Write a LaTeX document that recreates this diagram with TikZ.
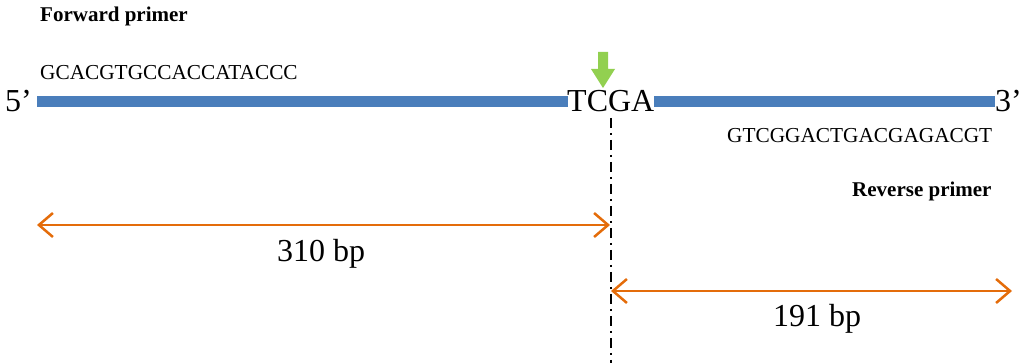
\documentclass[tikz,border=0pt]{standalone}
\usepackage{fontspec}
\setmainfont{Liberation Serif}
\usetikzlibrary{arrows.meta}
\definecolor{dnablue}{HTML}{4A7EBB}
\definecolor{sizeorange}{HTML}{E46C0A}
\definecolor{cutgreen}{HTML}{92D050}
\begin{document}
\begin{tikzpicture}[x=1pt,y=-1pt,
  lbl/.style={inner sep=0pt,anchor=base west},
  big/.style={font=\fontsize{32}{32}\selectfont},
  seqtxt/.style={font=\fontsize{21.3}{21.3}\selectfont},
  boldtxt/.style={font=\bfseries\fontsize{21}{21}\selectfont},
  strand/.style={dnablue,line width=11pt},
  sizearrow/.style={sizeorange,line width=2.5pt,{Straight Barb[length=14pt,width=24pt,line width=2.5pt]}-{Straight Barb[length=14pt,width=24pt,line width=2.5pt]}},
  cutline/.style={black,line width=2.2pt,dash pattern=on 10pt off 5pt on 2pt off 5pt}]
\useasboundingbox (0,0) rectangle (1029,363);
\node[lbl,boldtxt] (fp) at (40,22) {Forward primer};
\node[lbl,seqtxt] (fs) at (40,80) {GCACGTGCCACCATACCC};
\node[lbl,big] (p5) at (5,112) {5’};
\node[lbl,big] (site) at (567,112) {TCGA};
\node[lbl,big] (p3) at (995,112) {3’};
\coordinate (l1) at (37,102);
\coordinate (l2) at (568,102);
\coordinate (r1) at (654,102);
\coordinate (r2) at (995,102);
\draw[strand] (l1) -- (l2);
\draw[strand] (r1) -- (r2);
\node[lbl,seqtxt] (rs) at (727,143) {GTCGGACTGACGAGACGT};
\node[lbl,boldtxt] (rp) at (852,197) {Reverse primer};
% green arrow
\fill[cutgreen] (598,52) -- (608,52) -- (608,69) -- (615,69) -- (603,88) -- (591,69) -- (598,69) -- cycle;
% cut line
\coordinate (c1) at (611,118);
\coordinate (c2) at (611,363);
\draw[cutline] (c1) -- (c2);
% size arrows
\coordinate (a1) at (37,225);
\coordinate (a2) at (610,225);
\coordinate (b1) at (611,291);
\coordinate (b2) at (1012,291);
\draw[sizearrow] (a1) -- (a2);
\draw[sizearrow] (b1) -- (b2);
\node[anchor=base,inner sep=0pt,big] (d1) at (321,262) {310 bp};
\node[anchor=base,inner sep=0pt,big] (d2) at (817,327) {191 bp};
\end{tikzpicture}
\end{document}
